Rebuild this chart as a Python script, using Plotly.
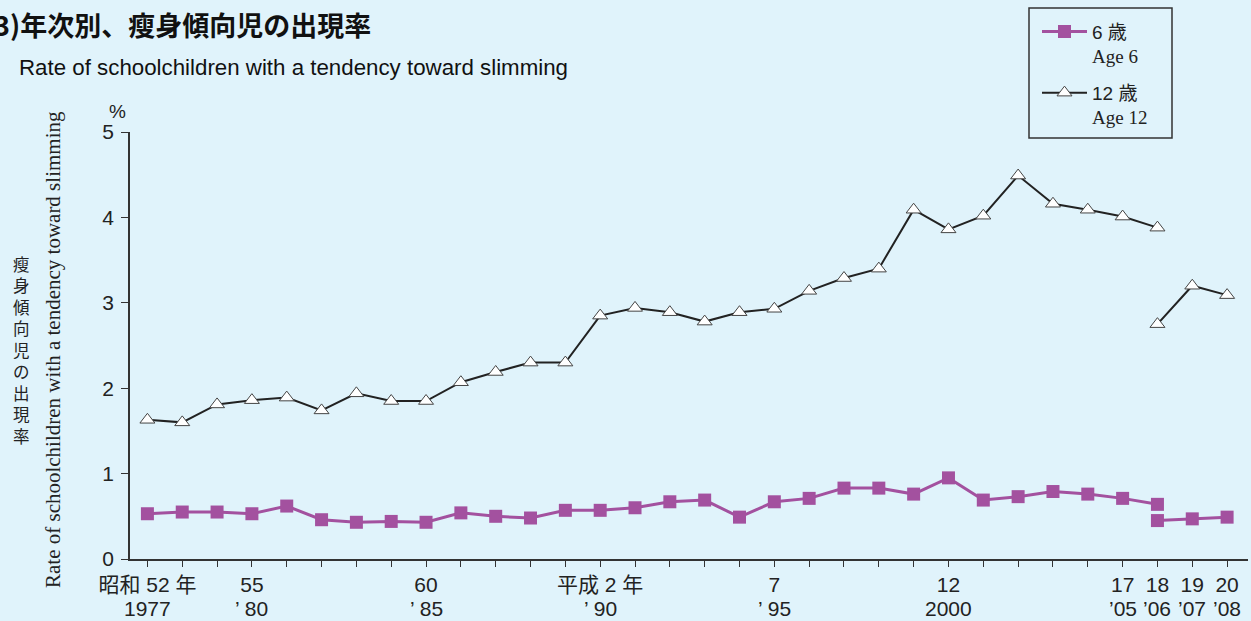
import plotly.graph_objects as go

# ---- data ----
years_old = list(range(1977, 2007))
age6_old = [0.53, 0.55, 0.55, 0.53, 0.62, 0.46, 0.43, 0.44, 0.43, 0.54,
            0.50, 0.48, 0.57, 0.57, 0.60, 0.67, 0.69, 0.49, 0.67, 0.71,
            0.83, 0.83, 0.76, 0.95, 0.69, 0.73, 0.79, 0.76, 0.71, 0.64]
age12_old = [1.63, 1.60, 1.81, 1.86, 1.89, 1.74, 1.94, 1.85, 1.85, 2.07,
             2.19, 2.30, 2.30, 2.85, 2.94, 2.89, 2.78, 2.89, 2.93, 3.14,
             3.29, 3.40, 4.09, 3.86, 4.02, 4.49, 4.16, 4.09, 4.01, 3.88]
years_new = [2006, 2007, 2008]
age6_new = [0.45, 0.47, 0.49]
age12_new = [2.75, 3.20, 3.09]

tick_years = list(range(1977, 2009))
era_labels = {1977: "昭和 52 年", 1980: "55", 1985: "60", 1990: "平成 2 年",
              1995: "7", 2000: "12", 2005: "17", 2006: "18", 2007: "19",
              2008: "20"}
year_labels = {1977: "1977", 1980: "’ 80", 1985: "’ 85", 1990: "’ 90",
               1995: "’ 95", 2000: "2000", 2005: "’05", 2006: "’06",
               2007: "’07", 2008: "’08"}
ticktext1 = [era_labels.get(y, "") for y in tick_years]

BG = "#e0f3fb"
PURPLE = "#a3519f"
SANS = "Liberation Sans, Noto Sans CJK JP, sans-serif"
SERIF = "Liberation Serif, serif"
CJK = "Noto Sans CJK JP, sans-serif"

# plot area in pixels
L, R, T, B = 130, 1248, 132, 559
W, H = R - L, B - T


def px(x):
    return (x - L) / W


def py(y):
    return (B - y) / H


x6 = years_old + [None] + years_new
y6 = age6_old + [None] + age6_new
x12 = years_old + [None] + years_new
y12 = age12_old + [None] + age12_new

fig = go.Figure()
fig.add_trace(go.Scatter(
    x=x6, y=y6, mode="lines+markers", connectgaps=False,
    line=dict(color=PURPLE, width=3),
    marker=dict(symbol="square", size=13, color=PURPLE),
    name=f'<span style="font-family:{SANS};font-size:19px">6 歳</span><br>'
         f'<span style="font-size:19px">Age 6</span>',
    legendgroup="a",
))
fig.add_trace(go.Scatter(
    x=x12, y=y12, mode="lines+markers", connectgaps=False,
    line=dict(color="#222222", width=2),
    marker=dict(symbol="triangle-up", size=13, color="white",
                line=dict(color="#444444", width=1)),
    name=f'<span style="font-family:{SANS};font-size:19px">12 歳</span><br>'
         f'<span style="font-size:19px">Age 12</span>',
    legendgroup="b",
))

annotations = [
    dict(text="<b>3)年次別、瘦身傾向児の出現率</b>", x=px(-8), y=py(25),
         xanchor="left", yanchor="middle", showarrow=False,
         font=dict(family=CJK, size=27, color="#111111")),
    dict(text="Rate of schoolchildren with a tendency toward slimming",
         x=px(17), y=py(67), xanchor="left", yanchor="middle", showarrow=False,
         font=dict(family=SANS, size=22.3, color="#111111")),
    dict(text="%", x=px(117), y=py(112), xanchor="center", yanchor="middle",
         showarrow=False, font=dict(family=SANS, size=19, color="#222222")),
    dict(text="Rate of schoolchildren with a tendency toward slimming",
         x=px(53), y=py(350), xanchor="center", yanchor="middle",
         textangle=-90, showarrow=False,
         font=dict(family=SERIF, size=21, color="#222222")),
    dict(text="<br>".join("瘦身傾向児の出現率"), x=px(21), y=py(350),
         xanchor="center", yanchor="middle", showarrow=False,
         font=dict(family=CJK, size=16.5, color="#222222")),
]
for a in annotations:
    a["xref"] = "paper"
    a["yref"] = "paper"

# second line of the x tick labels (western years)
for yr, lab in year_labels.items():
    annotations.append(dict(
        text=lab, x=yr, xref="x", y=py(621), yref="paper",
        xanchor="center", yanchor="bottom", showarrow=False, borderpad=0,
        font=dict(family=SANS, size=21, color="#222222")))

shapes = [dict(type="rect", xref="paper", yref="paper",
               x0=px(1029), x1=px(1172), y0=py(138), y1=py(8),
               line=dict(color="#333333", width=1.5), fillcolor=BG,
               layer="below")]

fig.update_layout(
    width=1251, height=621,
    margin=dict(l=L, r=1251 - R, t=T, b=621 - B, pad=0),
    paper_bgcolor=BG, plot_bgcolor=BG,
    showlegend=True,
    legend=dict(
        x=px(1037), y=py(13), xanchor="left", yanchor="top",
        bgcolor="rgba(0,0,0,0)", borderwidth=0,
        font=dict(family=SERIF, size=18.5, color="#222222"),
        valign="top", itemwidth=45, tracegroupgap=10,
    ),
    annotations=annotations,
    shapes=shapes,
    xaxis=dict(
        range=[1976.5, 2008.6], tickmode="array", tickvals=tick_years,
        ticktext=ticktext1, ticks="outside", ticklen=6,
        tickwidth=1.2, tickcolor="#333333", showline=True,
        linecolor="#333333", linewidth=1.8, showgrid=False, zeroline=False,
        tickfont=dict(family=SANS, size=21, color="#222222"),
        ticklabelstandoff=0,
    ),
    yaxis=dict(
        range=[0, 5], tickvals=[0, 1, 2, 3, 4, 5], ticks="outside", ticklen=7,
        tickwidth=1.2, tickcolor="#333333", showline=True, linecolor="#333333",
        linewidth=1.8, showgrid=False, zeroline=False,
        tickfont=dict(family=SANS, size=21, color="#222222"),
        ticklabelstandoff=3,
    ),
)

fig.write_html(
    "out.html",
    config={"displayModeBar": False},
    post_script="document.body.style.margin='0';document.body.style.overflow='hidden';",
)
